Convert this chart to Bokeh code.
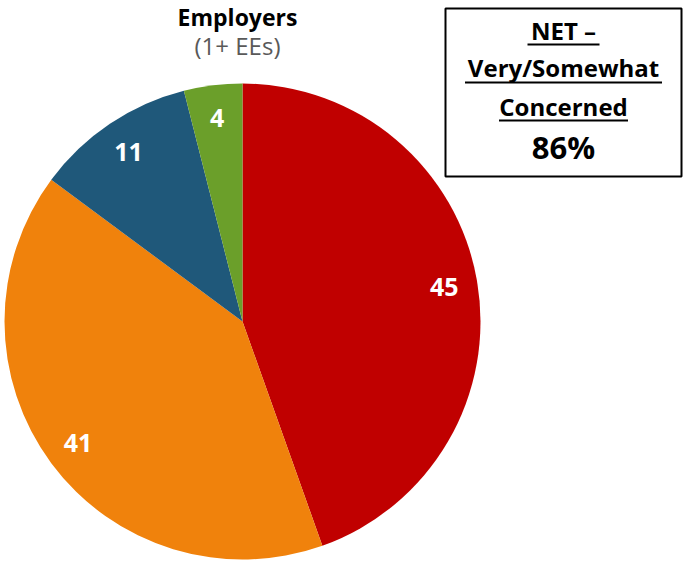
import math
from bokeh.plotting import figure
from bokeh.models import Range1d, ColumnDataSource
from bokeh.core.properties import value
from bokeh.embed import file_html
from bokeh.resources import INLINE

# ---- data ----
categories = ["Very concerned", "Somewhat concerned", "Not too concerned", "Not at all concerned"]
values = [45, 41, 11, 4]
colors = ["#C00000", "#F0820C", "#1F587A", "#6B9F2A"]
title_text = "Employers"
subtitle_text = "(1+ EEs)"
net_lines = ["NET –", "Very/Somewhat", "Concerned"]
net_value = "86%"

# ---- layout (pixels) ----
W, H = 687, 561
CX, CY, R = 242, 240, 238
LABEL_FRAC = 0.86
FONT = value("Open Sans")

total = float(sum(values))
starts, ends, lx, ly = [], [], [], []
cum = 0.0
for v in values:
    s = math.pi / 2 - 2 * math.pi * cum / total
    cum += v
    e = math.pi / 2 - 2 * math.pi * cum / total
    starts.append(s)
    ends.append(e)
    m = (s + e) / 2
    lx.append(CX + LABEL_FRAC * R * math.cos(m))
    ly.append(CY + LABEL_FRAC * R * math.sin(m))

src = ColumnDataSource(dict(
    cat=categories, val=values, color=colors, start=starts, end=ends,
    lx=lx, ly=ly, lab=[str(v) for v in values],
    x=[CX] * len(values), y=[CY] * len(values),
))

p = figure(width=W, height=H, x_range=Range1d(0, W), y_range=Range1d(0, H),
           output_backend="svg", toolbar_location=None, min_border=0,
           x_axis_type=None, y_axis_type=None)
p.outline_line_color = None
p.background_fill_color = "white"
p.border_fill_color = "white"

p.wedge(x="x", y="y", radius=R, start_angle="start", end_angle="end",
        direction="clock", fill_color="color", line_color=None, source=src)

p.text(x="lx", y="ly", text="lab", source=src, text_font=FONT,
       text_font_style="bold", text_font_size="25px", text_color="white",
       text_align="center", text_baseline="middle")

# title
TX = 237
p.text(x=[TX], y=[H - 16], text=[title_text], text_font=FONT, text_font_style="bold",
       text_font_size="23px", text_color="black", text_align="center",
       text_baseline="middle")
p.text(x=[TX], y=[H - 45], text=[subtitle_text], text_font=FONT, text_font_style="normal",
       text_font_size="24px", text_color="#595959", text_align="center",
       text_baseline="middle")

# NET box
BL, BR, BT, BB = 445, 681, H - 8, H - 176
p.quad(left=[BL], right=[BR], top=[BT], bottom=[BB], fill_color="white",
       line_color="black", line_width=2)
BXC = 563
line_y = [H - 30, H - 67, H - 106]
under_y = [H - 44, H - 82, H - 120]
under_half = [36, 98.5, 64.5]
p.text(x=[BXC] * 3, y=line_y, text=net_lines, text_font=FONT, text_font_style="bold",
       text_font_size="24px", text_color="black", text_align="center",
       text_baseline="middle")
p.segment(x0=[BXC - h for h in under_half], x1=[BXC + h for h in under_half],
          y0=under_y, y1=under_y, line_color="black", line_width=2)
p.text(x=[BXC], y=[H - 146], text=[net_value], text_font=FONT, text_font_style="bold",
       text_font_size="31px", text_color="black", text_align="center",
       text_baseline="middle")

open("out.html", "w").write(file_html(p, INLINE))
